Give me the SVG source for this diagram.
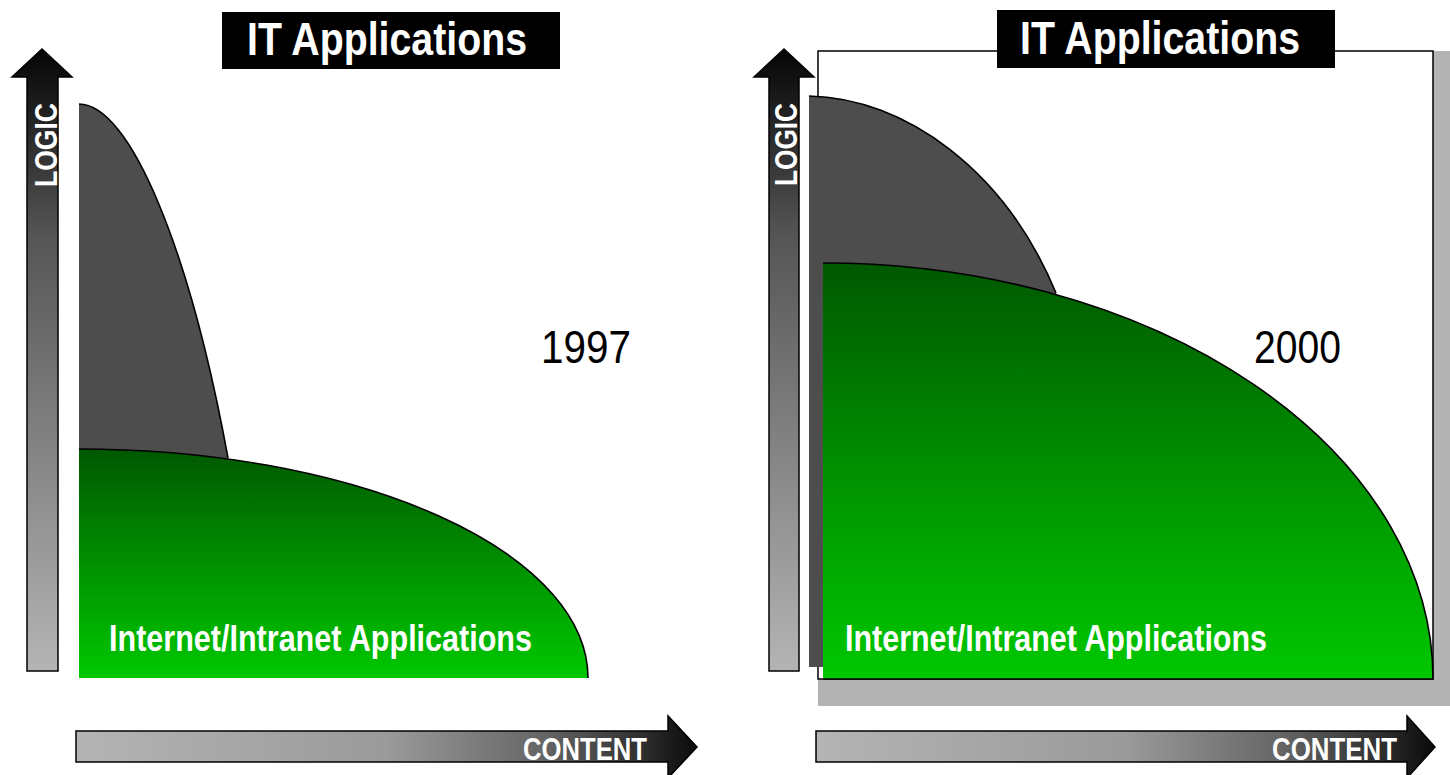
<svg xmlns="http://www.w3.org/2000/svg" width="1450" height="775" viewBox="0 0 1450 775">
  <style>
    .bold { font-family: "Liberation Sans Narrow", "Liberation Sans", Arial, sans-serif; font-weight: bold; fill: #ffffff; }
    .year { font-family: "Liberation Sans Narrow", "Liberation Sans", Arial, sans-serif; font-weight: normal; fill: #000000; font-size: 46px; }
    .title { font-size: 46px; }
    .axis-label { font-size: 31px; }
    .app-label { font-size: 37px; }
    .edge { fill: none; stroke: #000000; stroke-width: 1.6; }
    .legacy { fill: #4d4d4d; stroke: none; }
    .internet { fill: url(#greenGrad); stroke: none; }
    .axis-box { stroke: #000000; stroke-width: 1.5; stroke-linejoin: miter; }
  </style>
  <defs>
    <linearGradient id="greenGrad" x1="0" y1="0" x2="0" y2="1">
      <stop offset="0" stop-color="#005800"/>
      <stop offset="1" stop-color="#00c800"/>
    </linearGradient>
    <linearGradient id="vGradL" gradientUnits="userSpaceOnUse" x1="0" y1="49" x2="0" y2="671">
      <stop offset="0" stop-color="#050505"/>
      <stop offset="0.3" stop-color="#555555"/>
      <stop offset="1" stop-color="#b4b4b4"/>
    </linearGradient>
    <linearGradient id="hGradL" gradientUnits="userSpaceOnUse" x1="76" y1="0" x2="697" y2="0">
      <stop offset="0" stop-color="#b4b4b4"/>
      <stop offset="0.5" stop-color="#9a9a9a"/>
      <stop offset="0.75" stop-color="#666666"/>
      <stop offset="0.9" stop-color="#333333"/>
      <stop offset="1" stop-color="#0a0a0a"/>
    </linearGradient>
    <linearGradient id="hGradR" gradientUnits="userSpaceOnUse" x1="816" y1="0" x2="1435" y2="0">
      <stop offset="0" stop-color="#b4b4b4"/>
      <stop offset="0.5" stop-color="#9a9a9a"/>
      <stop offset="0.75" stop-color="#666666"/>
      <stop offset="0.9" stop-color="#333333"/>
      <stop offset="1" stop-color="#0a0a0a"/>
    </linearGradient>
  </defs>

  <!-- ===== Left panel (1997) ===== -->
  <g id="left-title">
    <rect x="222" y="12" width="338" height="57" fill="#000000"/>
    <text class="bold title" x="247" y="55" textLength="280" lengthAdjust="spacingAndGlyphs">IT Applications</text>
  </g>

  <g id="left-logic-axis">
    <polygon class="axis-box" fill="url(#vGradL)" points="27,671 27,77 12,77 42,49 72,77 58,77 58,671"/>
    <text class="bold axis-label" transform="translate(57,187) rotate(-90)" textLength="84" lengthAdjust="spacingAndGlyphs">LOGIC</text>
  </g>

  <g id="left-content-axis">
    <polygon class="axis-box" fill="url(#hGradL)" points="76,731 668,731 668,716 697,747 668,778 668,762 76,762"/>
    <text class="bold axis-label" x="523" y="760" textLength="124" lengthAdjust="spacingAndGlyphs">CONTENT</text>
  </g>

  <g id="left-legacy">
    <path class="legacy" d="M79,104 C130,104 190,250 228,458 L240,678 L79,678 Z"/>
    <path class="edge" d="M79,104 C130,104 190,250 228,458"/>
  </g>

  <g id="left-internet">
    <path class="internet" d="M79,449 A509,229 0 0 1 588,678 L79,678 Z"/>
    <path class="edge" d="M79,449 A509,229 0 0 1 588,678"/>
    <text class="bold app-label" x="109" y="651" textLength="423" lengthAdjust="spacingAndGlyphs">Internet/Intranet Applications</text>
  </g>

  <g id="year-1997">
    <text class="year" x="541" y="363" textLength="90" lengthAdjust="spacingAndGlyphs">1997</text>
  </g>

  <!-- ===== Right panel (2000) ===== -->
  <g id="right-frame">
    <polygon fill="#b3b3b3" points="1433,51 1450,51 1450,706 818,706 818,679 1433,679"/>
    <rect x="818" y="51" width="615" height="628" fill="#ffffff" stroke="#000000" stroke-width="1.5"/>
  </g>

  <g id="right-logic-axis">
    <polygon class="axis-box" fill="url(#vGradL)" points="769,671 769,77 754,77 784,49 814,77 799,77 799,671"/>
    <text class="bold axis-label" transform="translate(797,186) rotate(-90)" textLength="83" lengthAdjust="spacingAndGlyphs">LOGIC</text>
  </g>

  <g id="right-content-axis">
    <polygon class="axis-box" fill="url(#hGradR)" points="816,731 1407,731 1407,716 1435,747 1407,778 1407,762 816,762"/>
    <text class="bold axis-label" x="1272" y="760" textLength="125" lengthAdjust="spacingAndGlyphs">CONTENT</text>
  </g>

  <g id="right-legacy">
    <path class="legacy" d="M809,96 C905,98 1005,170 1056,293 L1110,500 L1110,667 L809,667 Z"/>
    <path class="edge" d="M809,96 C905,98 1005,170 1056,293"/>
  </g>

  <g id="right-internet">
    <path class="internet" d="M823,263 A610,416 0 0 1 1433,679 L823,679 Z"/>
    <path class="edge" d="M823,263 A610,416 0 0 1 1433,679 L823,679"/>
    <text class="bold app-label" x="845" y="651" textLength="422" lengthAdjust="spacingAndGlyphs">Internet/Intranet Applications</text>
  </g>

  <g id="year-2000">
    <text class="year" x="1254" y="363" textLength="87" lengthAdjust="spacingAndGlyphs">2000</text>
  </g>

  <g id="right-title">
    <rect x="997" y="10" width="338" height="58" fill="#000000"/>
    <text class="bold title" x="1020" y="54" textLength="280" lengthAdjust="spacingAndGlyphs">IT Applications</text>
  </g>

  <g id="connectors"></g>
</svg>
